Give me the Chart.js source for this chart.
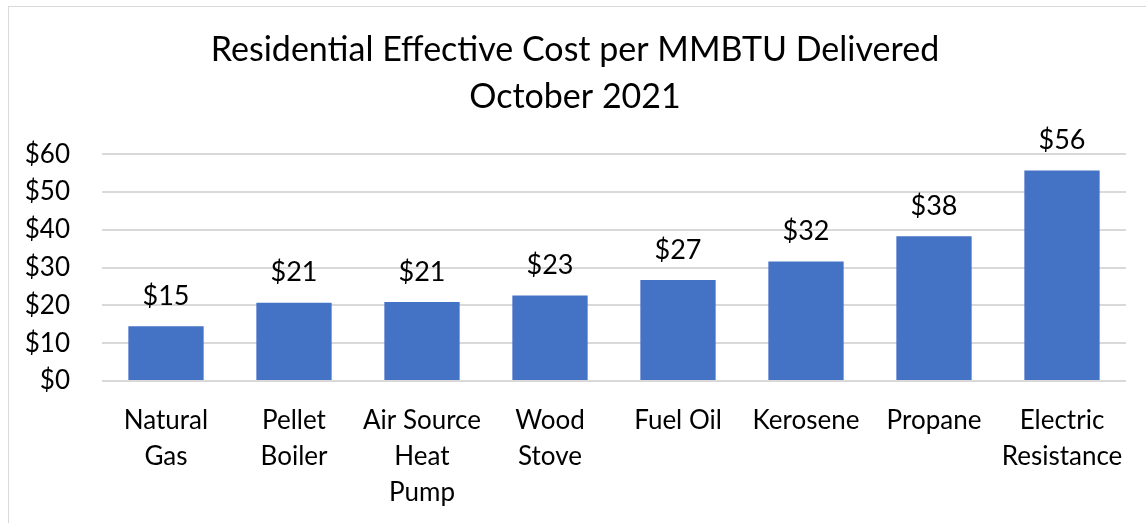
<!DOCTYPE html>
<html>
<head>
<meta charset="utf-8">
<script src="https://cdn.jsdelivr.net/npm/chart.js@4"></script>
<style>
  body { margin: 0; background: #fff; }
  #frame { position: absolute; left: 8px; top: 6px; width: 1200px; height: 600px; border: 1px solid #d9d9d9; }
  #wrap { position: absolute; left: 0; top: 0; width: 1146px; height: 523px; }
</style>
</head>
<body>
<div id="frame"></div>
<div id="wrap"><canvas id="myChart"></canvas></div>
<script>
// heating fuels, cheapest to dearest
const fuels = [
  ['Natural', 'Gas'],
  ['Pellet', 'Boiler'],
  ['Air Source', 'Heat', 'Pump'],
  ['Wood', 'Stove'],
  'Fuel Oil',
  'Kerosene',
  'Propane',
  ['Electric', 'Resistance']
];
// dollars per MMBTU delivered
const costPerMMBTU = [14.5, 20.7, 20.9, 22.6, 26.7, 31.6, 38.3, 55.7];
const titleLines = ['Residential Effective Cost per MMBTU Delivered', 'October 2021'];

const FONT = 'Lato, "Open Sans", sans-serif';

// writes the rounded dollar value above each bar
const barLabels = {
  id: 'barLabels',
  afterDatasetsDraw(chart) {
    const ctx = chart.ctx;
    const meta = chart.getDatasetMeta(0);
    ctx.save();
    ctx.font = '27px ' + FONT;
    ctx.fillStyle = '#000';
    ctx.textAlign = 'center';
    ctx.textBaseline = 'middle';
    meta.data.forEach((bar, i) => {
      ctx.fillText('$' + Math.round(costPerMMBTU[i]), bar.x, bar.y - 30);
    });
    ctx.restore();
  }
};

const data = {
  labels: fuels,
  datasets: [{
    data: costPerMMBTU,
    backgroundColor: '#4472C4',
    borderWidth: 0,
    categoryPercentage: 1,
    barPercentage: 1 / 1.7
  }]
};

const config = {
  type: 'bar',
  data: data,
  options: {
    responsive: true,
    maintainAspectRatio: false,
    animation: false,
    layout: { padding: { left: 24, right: 20, top: 0, bottom: 0 } },
    plugins: {
      legend: { display: false },
      tooltip: { enabled: false },
      title: {
        display: true,
        text: titleLines,
        color: '#000',
        font: { family: FONT, size: 34, weight: 'normal', lineHeight: 1.4 },
        padding: { top: 26, bottom: 33 }
      }
    },
    scales: {
      y: {
        min: 0,
        max: 60,
        afterFit(scale) { scale.width = 78; },
        ticks: {
          stepSize: 10,
          color: '#000',
          padding: 32,
          font: { family: FONT, size: 26 },
          callback: v => '$' + v
        },
        grid: { color: '#d9d9d9', lineWidth: 2, drawTicks: false },
        border: { display: false }
      },
      x: {
        afterFit(scale) { scale.height = 142; },
        ticks: {
          color: '#000',
          padding: 22,
          maxRotation: 0,
          autoSkip: false,
          font: { family: FONT, size: 26, lineHeight: '36px' }
        },
        grid: { display: false, drawTicks: false },
        border: { display: false }
      }
    }
  },
  plugins: [barLabels]
};

const myChart = new Chart(document.getElementById('myChart'), config);
</script>
</body>
</html>
